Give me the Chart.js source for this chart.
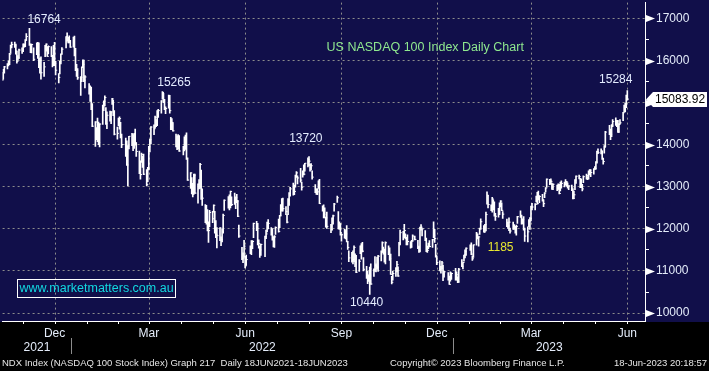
<!DOCTYPE html>
<html><head><meta charset="utf-8">
<script src="https://cdn.jsdelivr.net/npm/chart.js@4/dist/chart.umd.min.js"></script>
<style>html,body{margin:0;padding:0;background:#000;}canvas{display:block;}</style>
</head><body>
<canvas id="c" width="709" height="371"></canvas>
<script>
// ---------- DATA ----------
const firstDay = '2021-10-27';
const lastDay = '2023-06-16';
const holidays = ['2021-11-25','2021-12-24','2022-01-17','2022-02-21','2022-04-15','2022-05-30','2022-06-20','2022-07-04','2022-09-05','2022-11-24','2022-12-26','2023-01-02','2023-01-16','2023-02-20','2023-04-07','2023-05-29'];

const highs = [
15720,15790,15860,
15930,15990,16170,16370,16440,16440,16390,16220,16120,16270,16300,16400,16400,16500,16640,16764,16400,16390,16300,16420,16430,
16420,16060,16090,15960,16360,16400,16330,16350,16330,16120,16360,16430,15980,15690,15990,16160,16310,16570,16660,16550,16590,16480,
16560,16580,16290,15910,15810,15620,15850,16020,16010,15640,15450,15400,15370,14980,14550,14410,14630,14540,14500,14940,
15040,15160,14880,14780,14800,14790,15100,15060,14810,14420,14630,14660,14530,14250,14160,14090,13980,14200,14270,
14230,14270,14370,14050,13850,13620,13800,13730,13780,13410,13460,13960,14130,14430,14470,14680,14600,14810,14840,15050,15265,15220,15080,
14900,15180,15170,14650,14620,14520,14250,14210,14240,14220,13960,14190,14230,14280,13690,13340,13220,13080,13300,13300,
13070,13170,13560,13400,12950,12580,12560,12460,12170,12440,12420,12570,12420,12200,12030,12030,11810,12000,12350,12690,12770,
12810,12900,12760,12850,12760,12820,12680,12090,11560,11430,11730,11350,11380,11600,11720,11720,12140,12180,12130,11740,11590,
11640,11830,11970,12160,12220,12030,12010,11820,11840,12050,12230,12320,12580,12720,12730,12530,12340,12720,12860,12990,
13090,13040,13280,13360,13260,13440,13110,13380,13520,13560,13690,13720,13540,13550,13380,13050,12950,12960,13140,13180,12550,12570,12500,
12280,12400,12110,12260,12330,12610,12780,12410,12170,12110,11880,11990,11960,12080,11700,11480,11440,11480,11600,11410,11370,
11270,11600,11650,11680,11320,11110,10990,10910,11090,11170,11050,11340,11170,11330,11370,11480,11690,11570,11520,11690,11600,
11550,11400,10870,10990,11080,11230,11100,11680,11970,11940,12110,11880,11800,11860,11700,11730,11860,11830,11730,11590,12040,
12100,12010,11960,11780,11590,11660,11720,11750,12170,11990,11630,11350,11240,11110,11230,11140,10990,10960,10880,10980,10950,
11060,10980,10860,11060,11270,11200,11380,11500,11550,11620,11670,11360,11620,11920,11880,11810,12020,12240,12080,12110,
12400,12880,12800,12570,12750,12690,12640,12370,12490,12620,12670,12620,12410,12230,12160,12260,12020,12160,12100,
12060,12090,12300,12430,12330,12240,12290,12020,12050,12220,12270,12540,12610,12600,12780,12870,12900,12790,12820,12690,12860,12980,13190,
13180,13190,13090,13070,13040,13070,13060,13110,13140,13110,13170,13130,13090,13030,13040,12950,12900,13170,13260,
13280,13200,13190,13060,13260,13300,13240,13380,13410,13410,13430,13480,13600,13850,13900,13900,13840,13680,13980,14320,14460,14370,
14480,14600,14640,14580,14580,14500,14600,14770,14940,14990,15180,15284
];
const lows = [
15530,15560,15700,
15800,15870,15900,16170,16300,16310,16150,15940,16010,16050,16170,16210,16320,16330,16480,16360,16190,16180,16000,16140,16050,
15830,15700,15560,15620,16090,16220,16100,16160,16090,15850,15880,15880,15660,15470,15680,15920,16150,16300,16460,16420,16420,16310,
16320,16110,15760,15620,15550,15170,15500,15830,15500,15350,15200,15030,14830,14430,13960,14120,14070,14000,13950,14480,
14810,14920,14480,14380,14560,14500,14960,14690,14230,14130,14450,14370,14160,13930,13720,13510,13020,13900,13980,
13860,13910,13990,13720,13310,13180,13580,13460,13290,13020,13120,13400,13830,14020,14240,14400,14430,14450,14650,14750,15080,15000,14830,
14740,14870,14750,14360,14360,14320,13950,13880,13900,13840,13760,13850,13890,13650,13150,12960,12830,12760,12830,12840,
12610,12950,12960,12700,12560,12150,12110,11950,11680,12050,12150,12400,11900,11790,11550,11720,11600,11690,11900,12440,12490,
12450,12500,12550,12580,12480,12620,12290,11800,11270,11200,11330,11070,11130,11410,11390,11530,11790,11960,11620,11540,11320,
11370,11340,11770,11930,12000,11850,11730,11570,11560,11870,11920,12030,12310,12420,12420,12340,12140,12340,12560,12780,
12800,12810,12990,13220,13070,13110,12920,13230,13280,13370,13470,13500,13370,13400,13180,12860,12820,12810,12960,12600,12420,12260,12260,
12040,12010,11910,11970,12110,12420,12630,12000,11990,11850,11710,11780,11760,11690,11510,11220,11210,11170,11220,11100,10960,
10990,11410,11280,11450,11000,10820,10700,10750,10440,10680,10870,10990,10980,11040,10990,11240,11450,11400,11210,11170,11390,
11250,10920,10690,10780,10870,10980,10870,11360,11620,11740,11790,11760,11620,11620,11540,11560,11700,11740,11530,11440,11450,
11970,11830,11720,11460,11440,11530,11570,11560,11790,11680,11330,11150,11000,10950,11050,10770,10850,10780,10680,10760,10800,
10780,10780,10720,10730,11100,11050,11230,11310,11370,11490,11390,11250,11320,11610,11760,11590,11870,11990,11920,11930,
11950,12590,12500,12430,12400,12450,12300,12200,12280,12340,12520,12430,12250,12050,12010,11960,11900,11990,11990,
11900,11850,12130,12270,12110,12120,11970,11700,11690,12050,11990,12190,12450,12450,12640,12590,12690,12620,12660,12530,12740,12880,12990,
13050,13060,12940,12930,12910,12940,12830,12900,12970,13000,13040,13010,12970,12930,12910,12710,12720,12930,13080,
13190,12980,12980,12900,13100,13180,13170,13180,13280,13240,13300,13410,13420,13560,13790,13780,13650,13540,13800,13950,14240,14120,
14190,14430,14460,14430,14290,14290,14500,14570,14780,14780,14880,15060
];
const closes = [
15540,15780,15850,
15900,15960,16150,16350,16380,16350,16230,15980,16060,16250,16240,16370,16330,16480,16570,16380,16320,16380,16030,16390,16140,
15840,16000,15710,15850,16330,16390,16100,16330,16120,15960,16330,15930,15770,15600,15970,16150,16270,16570,16480,16480,16430,16320,
16500,16280,15770,15760,15590,15600,15840,15910,15530,15610,15230,15050,14850,14440,14540,14190,14200,14050,14490,14930,
15030,15120,14500,14700,14590,14780,15090,14740,14250,14270,14620,14620,14180,14000,13860,13520,13970,14200,14240,
14000,14240,14040,13840,13320,13290,13770,13640,13300,13050,13450,13950,14120,14420,14380,14650,14470,14800,14810,15040,15240,15030,14840,
14860,15170,14810,14490,14530,14330,13960,13910,14200,13850,13870,14150,13970,13670,13160,13330,12840,12820,13270,12850,
13060,13090,13530,12860,12730,12190,12340,11960,11960,12390,12240,12560,11930,11870,11840,12020,11750,11930,12320,12680,12640,
12550,12890,12580,12630,12740,12650,12300,11830,11290,11310,11590,11120,11270,11560,11540,11700,12130,12010,11640,11650,11500,
11630,11820,11880,12140,12130,11870,11760,11740,11810,12030,11940,12310,12520,12710,12480,12410,12160,12690,12840,12950,
12930,12890,13260,13330,13210,13160,12990,13370,13300,13560,13650,13610,13450,13500,13230,12880,12840,12880,13140,12600,12470,12340,12270,
12260,12060,11980,12250,12310,12590,12740,12040,12130,11910,11860,11970,11880,11700,11560,11310,11250,11270,11560,11210,10970,
11230,11590,11560,11470,11040,10920,10810,10790,11050,10690,11030,11130,11100,11090,11350,11440,11670,11410,11240,11670,11400,
11290,10920,10730,10940,11060,11150,10880,11660,11910,11800,11960,11790,11760,11700,11570,11720,11830,11750,11560,11480,12030,
12040,12000,11770,11530,11490,11640,11580,11740,11850,11770,11370,11200,11040,11020,11190,10930,10980,10820,10680,10950,10940,
10860,10910,10740,11040,11110,11200,11380,11460,11540,11560,11400,11290,11620,11870,11810,11810,12010,12170,11920,12100,
12340,12800,12580,12470,12710,12470,12340,12300,12470,12590,12660,12440,12350,12060,12070,12160,11950,12010,12040,
11950,12060,12290,12300,12160,12220,11990,11830,11930,12180,12250,12520,12520,12580,12770,12600,12770,12770,12690,12600,12850,12970,13180,
13140,13130,12990,13060,13030,12950,12840,13100,13080,13100,13110,13110,13000,13020,12970,12720,12810,13160,13250,
13240,13070,12990,12950,13240,13270,13200,13350,13390,13340,13420,13430,13590,13840,13810,13860,13670,13600,13940,14300,14340,14250,
14460,14550,14550,14560,14300,14480,14520,14760,14870,14970,15160,15083.92
];

const monthNames = ['Jan','Feb','Mar','Apr','May','Jun','Jul','Aug','Sep','Oct','Nov','Dec'];
const labelledMonths = ['2021-12','2022-03','2022-06','2022-09','2022-12','2023-03','2023-06'];
const years = [2021, 2022, 2023];
const yTicks = [10000,10500,11000,11500,12000,12500,13000,13500,14000,14500,15000,15500,16000,16500,17000];
const lastPrice = 15083.92;
const chartTitle = 'US NASDAQ 100 Index Daily Chart';
const watermark = 'www.marketmatters.com.au';
const annotations = [
  {text:'16764', date:'2021-12-06', value:16976, color:'#e4ecff'},
  {text:'15265', date:'2022-04-09', value:15468, color:'#e4ecff'},
  {text:'13720', date:'2022-08-13', value:14148, color:'#e4ecff'},
  {text:'10440', date:'2022-10-10', value:10236, color:'#e4ecff'},
  {text:'1185',  date:'2023-02-15', value:11556, color:'#e8e830'},
  {text:'15284', date:'2023-06-05', value:15539, color:'#e4ecff'}
];
const titlePos = {date:'2022-12-05', value:16317};
const footerLeft = 'NDX Index (NASDAQ 100 Stock Index) Graph 217  Daily 18JUN2021-18JUN2023';
const footerMid = 'Copyright\u00A9 2023 Bloomberg Finance L.P.';
const footerRight = '18-Jun-2023 20:18:57';

// ---------- helpers ----------
const ORIGIN = Date.UTC(2022,0,1);
function dayNum(s){const p=s.split('-').map(Number);return (Date.UTC(p[0],p[1]-1,p[2]||1)-ORIGIN)/864e5;}
const tradingDays=[];
(function(){
  const a=dayNum(firstDay), b=dayNum(lastDay);
  for(let d=a; d<=b; d++){
    const dt=new Date(ORIGIN+d*864e5); const wd=dt.getUTCDay();
    if(wd===0||wd===6) continue;
    if(holidays.includes(dt.toISOString().slice(0,10))) continue;
    tradingDays.push(d);
  }
})();
const n = Math.min(tradingDays.length, highs.length, lows.length, closes.length);
const barData=[], closeData=[];
for(let i=0;i<n;i++){barData.push({x:tradingDays[i], y:[lows[i], highs[i]]}); closeData.push({x:tradingDays[i], y:closes[i]});}

const monthStarts=[]; const quarterStarts=new Set();
for(let y=2021;y<=2023;y++) for(let m=0;m<12;m++){
  const d=(Date.UTC(y,m,1)-ORIGIN)/864e5;
  if(d<-66||d>548) continue;
  monthStarts.push(d); if(m%3===0) quarterStarts.add(d);
}
const X_MIN=-65.63, X_MAX=547.9;
const monthLabelTicks = labelledMonths.map(s=>({value:dayNum(s+'-16'), label:monthNames[+s.split('-')[1]-1]}));
const yearTicks = years.map(y=>{
  const a=Math.max(X_MIN,dayNum(y+'-01-01')), b=Math.min(X_MAX,dayNum((y+1)+'-01-01'));
  return {value:(a+b)/2, label:String(y)};
});
const yearBounds = years.slice(1).map(y=>dayNum(y+'-01-01'));

const NAVY='#110f4a', GRID='#8c8c8c', AXISTXT='#e4ecfa';
const FONT="'Liberation Sans', Arial, sans-serif";
function noPad(s){s.paddingTop=0;s.paddingBottom=0;s.paddingLeft=0;s.paddingRight=0;}

const bgPlugin={id:'bg',beforeDraw(chart){
  const c=chart.ctx; c.save(); c.fillStyle='#000'; c.fillRect(0,0,chart.width,chart.height);
  c.fillStyle=NAVY; c.fillRect(0,0,chart.width,chart.chartArea.bottom+1); c.restore();
}};
const overlay={id:'overlay',afterDraw(chart){
  const c=chart.ctx, xs=chart.scales.x, ys=chart.scales.y, ax=chart.chartArea.right;
  c.save();
  c.fillStyle='#fff';
  yTicks.filter(v=>v%1000===0).forEach(v=>{const y=Math.round(ys.getPixelForValue(v))+0.5;
    c.beginPath(); c.moveTo(ax+1,y-3.5); c.lineTo(ax+1,y+3.5); c.lineTo(ax+10,y); c.closePath(); c.fill();});
  const py=Math.round(ys.getPixelForValue(lastPrice))+0.5;
  c.beginPath(); c.moveTo(ax+1,py); c.lineTo(ax+8,py-7.5); c.lineTo(chart.width-2,py-7.5); c.lineTo(chart.width-2,py+7.5); c.lineTo(ax+8,py+7.5); c.closePath();
  c.fillStyle='#fff'; c.fill();
  c.fillStyle='#000'; c.font='12px '+FONT; c.textAlign='left'; c.textBaseline='middle';
  c.fillText(lastPrice.toFixed(2), ax+10, py+0.5);
  c.textAlign='center';
  annotations.forEach(a=>{c.fillStyle=a.color; c.fillText(a.text, xs.getPixelForValue(dayNum(a.date)), ys.getPixelForValue(a.value));});
  c.fillStyle='#8fe88f'; c.font='12.5px '+FONT;
  c.fillText(chartTitle, xs.getPixelForValue(dayNum(titlePos.date)), ys.getPixelForValue(titlePos.value));
  c.strokeStyle='#fff'; c.lineWidth=1; c.strokeRect(17.5,279.5,158,18);
  c.fillStyle='#12d8e0'; c.font='12.5px '+FONT; c.textAlign='center';
  c.fillText(watermark, 96.5, 289);
  c.strokeStyle='#8c8c8c';
  yearBounds.forEach(d=>{const x=Math.round(xs.getPixelForValue(d))+0.5; c.beginPath(); c.moveTo(x,338); c.lineTo(x,354); c.stroke();});
  c.fillStyle='#e6e6e6'; c.font='9.5px '+FONT; c.textBaseline='middle';
  c.textAlign='left'; c.fillText(footerLeft,2,363.5); c.fillText(footerMid,390,363.5);
  c.textAlign='right'; c.fillText(footerRight,707,363.5);
  c.restore();
}};

new Chart(document.getElementById('c'),{
  type:'bar',
  data:{datasets:[
    {type:'bar', data:barData, backgroundColor:'#ffffff', borderWidth:0, barThickness:1, grouped:false, order:2},
    {type:'scatter', data:closeData, showLine:false, pointStyle:'dash', pointRadius:1.6, borderColor:'#ffffff', borderWidth:1, backgroundColor:'#ffffff', pointHoverRadius:0, order:1}
  ]},
  options:{
    responsive:false, animation:false, devicePixelRatio:1, events:[],
    layout:{padding:{left:0,top:0,right:0,bottom:16}},
    plugins:{legend:{display:false}, tooltip:{enabled:false}},
    scales:{
      x:{type:'linear', position:'bottom', min:X_MIN, max:X_MAX, weight:0, offset:false,
        afterBuildTicks:s=>{s.ticks=monthStarts.map(v=>({value:v}));},
        afterFit:s=>{s.height=4;noPad(s);},
        ticks:{display:false},
        grid:{display:true, drawOnChartArea:true, drawTicks:true, tickLength:3,
          color:ctx=>(ctx.tick && quarterStarts.has(ctx.tick.value))?GRID:'rgba(0,0,0,0)',
          tickColor:'#ffffff', lineWidth:1},
        border:{display:true, color:'#ffffff', width:1, dash:[2,3]}
      },
      xm:{type:'linear', position:'bottom', min:X_MIN, max:X_MAX, weight:1, offset:false,
        afterBuildTicks:s=>{s.ticks=monthLabelTicks.map(t=>({value:t.value}));},
        afterFit:s=>{s.height=14;noPad(s);},
        ticks:{autoSkip:false, maxRotation:0, padding:1, color:AXISTXT, font:{family:FONT,size:12},
          callback:(v)=>{const t=monthLabelTicks.find(t=>Math.abs(t.value-v)<0.01);return t?t.label:'';}},
        grid:{display:false, drawTicks:false}, border:{display:false}
      },
      xy:{type:'linear', position:'bottom', min:X_MIN, max:X_MAX, weight:2, offset:false,
        afterBuildTicks:s=>{s.ticks=yearTicks.map(t=>({value:t.value}));},
        afterFit:s=>{s.height=16;noPad(s);},
        ticks:{autoSkip:false, maxRotation:0, padding:1, color:AXISTXT, font:{family:FONT,size:12},
          callback:(v)=>{const t=yearTicks.find(t=>Math.abs(t.value-v)<0.01);return t?t.label:'';}},
        grid:{display:false, drawTicks:false}, border:{display:false}
      },
      y:{type:'linear', position:'right', min:9811, max:17377,
        afterBuildTicks:s=>{s.ticks=yTicks.map(v=>({value:v}));},
        afterFit:s=>{s.width=64;noPad(s);},
        ticks:{padding:7, color:AXISTXT, font:{family:FONT,size:12},
          callback:v=>(v%1000===0?String(v):'')},
        grid:{display:true, drawTicks:true, tickLength:4,
          color:ctx=>(ctx.tick && ctx.tick.value%1000===0)?GRID:'rgba(0,0,0,0)',
          tickColor:ctx=>(ctx.tick && ctx.tick.value%1000===0)?'rgba(0,0,0,0)':'#ffffff'},
        border:{display:true, color:'#ffffff', width:1, dash:[2,3]}
      }
    }
  },
  plugins:[bgPlugin, overlay]
});
</script>
</body></html>
